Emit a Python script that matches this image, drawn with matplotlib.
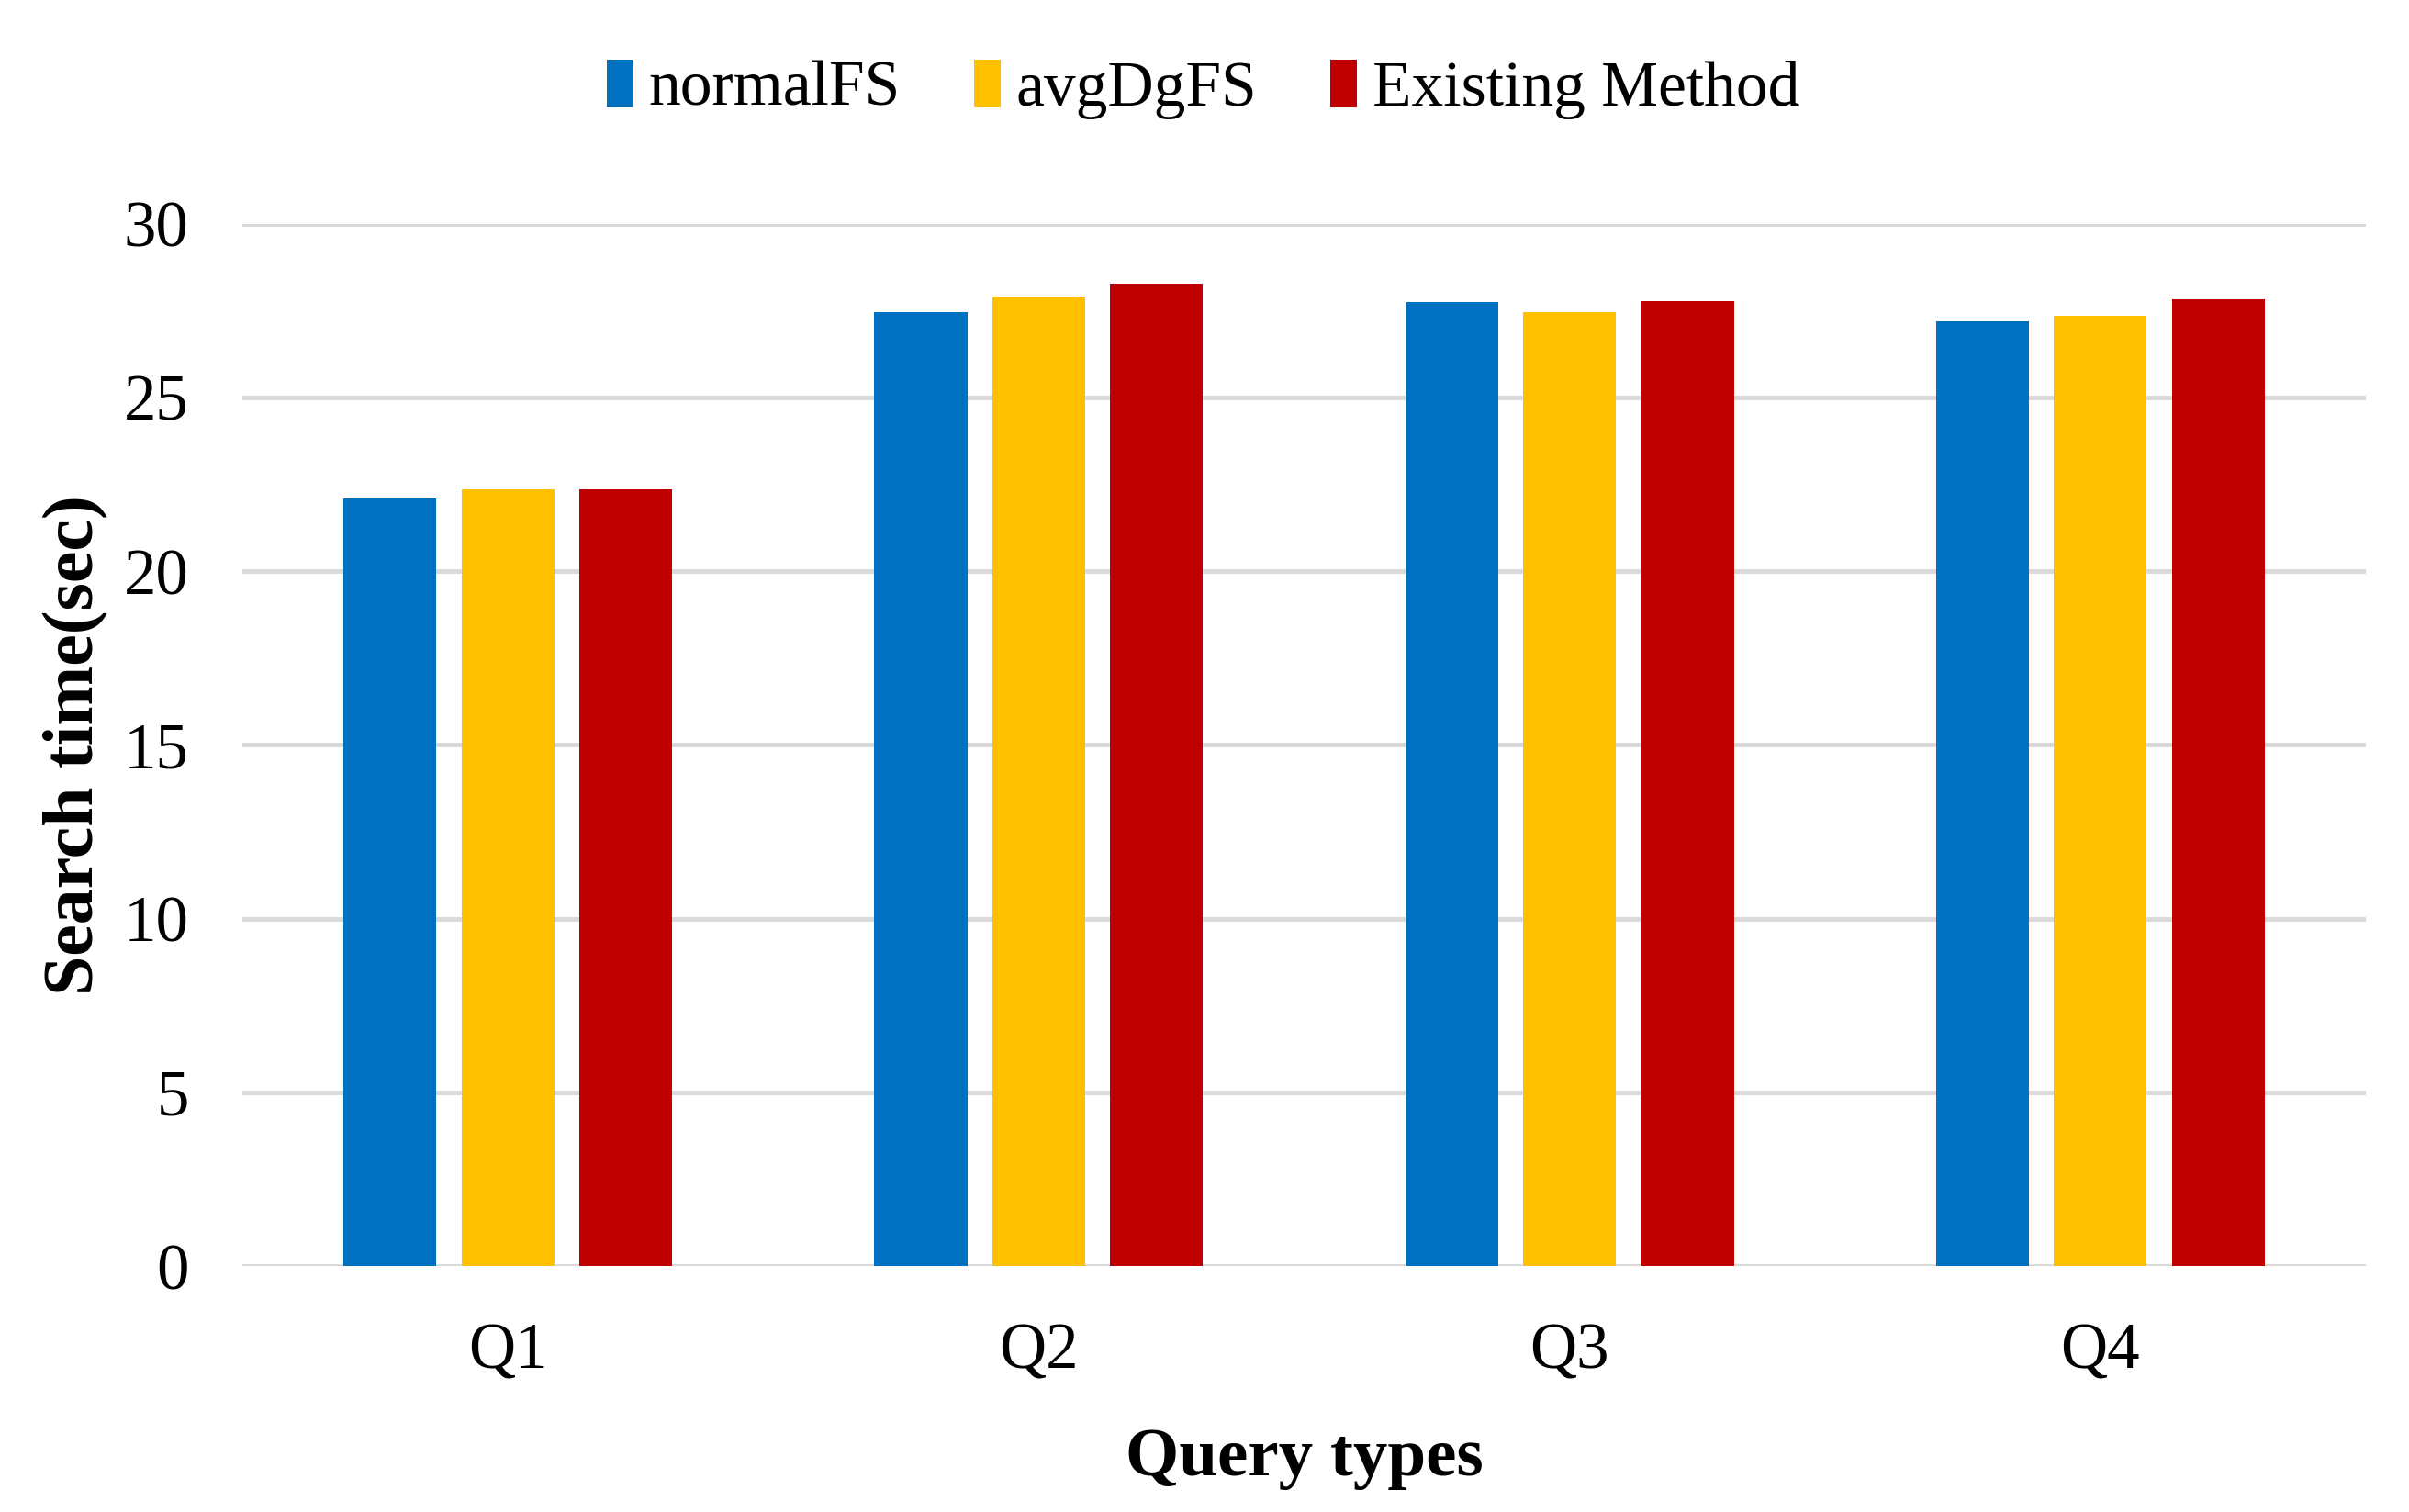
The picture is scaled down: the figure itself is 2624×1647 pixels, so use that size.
import numpy as np
import matplotlib
matplotlib.use('Agg')
import matplotlib.pyplot as plt

# data
categories = ['Q1', 'Q2', 'Q3', 'Q4']
normal_fs = [22.1, 27.45, 27.75, 27.2]
avg_dg_fs = [22.35, 27.9, 27.45, 27.35]
existing = [22.35, 28.28, 27.78, 27.82]
yticks = [0, 5, 10, 15, 20, 25, 30]

plt.rcParams['font.family'] = ['Liberation Serif', 'DejaVu Serif']

fig = plt.figure(figsize=(26.24, 16.47), dpi=100)
ax = fig.add_axes([0.1006, 0.1627, 0.8815, 0.6893])

x = np.arange(len(categories))
w = 0.175
step = 0.222
ax.bar(x - step, normal_fs, w, color='#0070C0', label='normalFS', zorder=3)
ax.bar(x, avg_dg_fs, w, color='#FFC000', label='avgDgFS', zorder=3)
ax.bar(x + step, existing, w, color='#C00000', label='Existing Method', zorder=3)

ax.set_xlim(-0.5, 3.5)
ax.set_ylim(0, 30)
ax.set_yticks(yticks)
ax.set_xticks(x)
ax.set_xticklabels(categories)
ax.yaxis.grid(True, color='#D9D9D9', linewidth=3.5, zorder=0)
ax.tick_params(axis='both', length=0, labelsize=51)
ax.tick_params(axis='y', pad=42)
ax.tick_params(axis='x', pad=44)
for s in ax.spines.values():
    s.set_visible(False)

ax.set_xlabel('Query types', fontsize=54, fontweight='bold', labelpad=36)
ax.set_ylabel('Search time(sec)', fontsize=56, fontweight='bold', labelpad=12)

leg = fig.legend(loc='center', bbox_to_anchor=(0.4995, 0.941), ncol=3, frameon=False,
                 fontsize=50, handlelength=0.42, handleheight=0.78, handletextpad=0.24,
                 columnspacing=1.15)

fig.savefig('out.png', dpi=100, facecolor='white')
